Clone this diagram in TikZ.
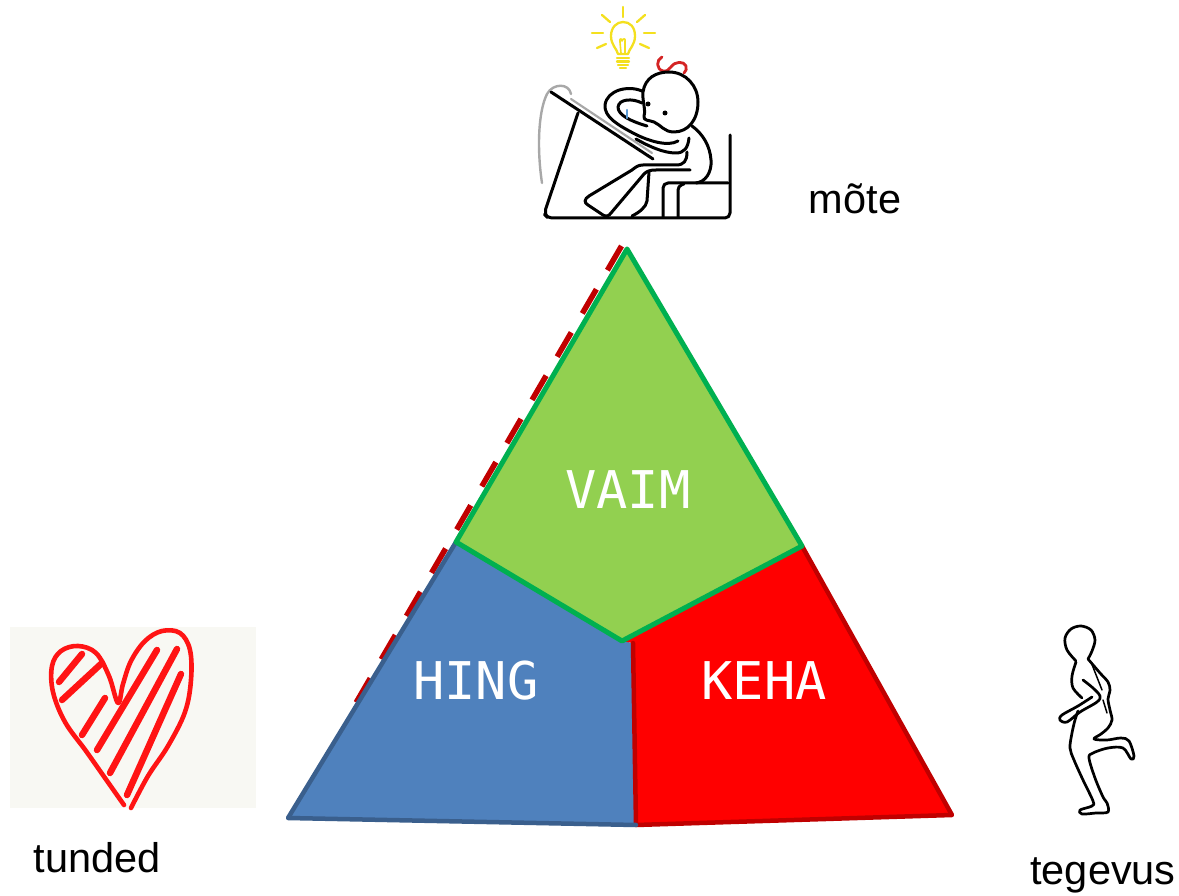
\documentclass[tikz,border=0pt]{standalone}
\usepackage{fontspec}
\setmainfont{Liberation Sans}
\newfontfamily\partfont{DejaVu Sans Mono}
\definecolor{vaimfill}{HTML}{92D050}
\definecolor{vaimline}{HTML}{00B050}
\definecolor{hingfill}{HTML}{4F81BD}
\definecolor{hingline}{HTML}{3A5F8D}
\definecolor{kehafill}{HTML}{FF0000}
\definecolor{kehaline}{HTML}{C00000}
\definecolor{bulb}{HTML}{F4E01E}
\definecolor{bow}{HTML}{D42424}
\definecolor{pen}{HTML}{5B9BD5}
\definecolor{cable}{HTML}{A8A8A8}
\definecolor{heartred}{HTML}{FF1414}
\definecolor{paper}{HTML}{F8F8F3}
\begin{document}
\begin{tikzpicture}[x=1pt,y=-1pt,line cap=round,line join=round]
\tikzset{
  ink/.style={draw=black,line width=3pt},
  thinink/.style={draw=black,line width=2.7pt},
  partlabel/.style={text=white,font=\partfont\fontsize{52}{60}\selectfont,inner sep=0pt},
  wordlabel/.style={text=black,font=\fontsize{41.5}{48}\selectfont,inner sep=0pt,anchor=base},
  ray/.style={draw=bulb,line width=2.3pt},
  stripe/.style={draw=heartred,line width=6.5pt},
}
\fill[white] (0,0) rectangle (1179,896);
\useasboundingbox (0,0) rectangle (1179,896);

% ---------- triangle corners ----------
\coordinate (apex) at (627,249);
\coordinate (gl) at (456,542);
\coordinate (gr) at (802,546);
\coordinate (gb) at (622,641);
\coordinate (split) at (633,643);
\coordinate (bl) at (288,818);
\coordinate (bm) at (636,825);
\coordinate (br) at (952,815);
\coordinate (dashtop) at (621.5,246);
\coordinate (dashend) at (346,720);

% dashed edge along the left side
\draw[kehaline,line width=5.5pt,line cap=butt,dash pattern=on 28pt off 22pt] (dashtop) -- (dashend);

% HING part
\fill[hingfill] (gl) -- (bl) -- (bm) -- (split) -- (gb) -- cycle;
% KEHA part
\fill[kehafill] (split) -- (gb) -- (gr) -- (br) -- (bm) -- cycle;
\draw[kehaline,line width=4.5pt] (gr) -- (br) -- (bm) -- (split);
\draw[hingline,line width=4.5pt] (gl) -- (bl) -- (bm);
% VAIM part
\filldraw[fill=vaimfill,draw=vaimline,line width=5pt] (apex) -- (gr) -- (gb) -- (gl) -- cycle;

\node[partlabel] (vaim) at (628,490) {VAIM};
\node[partlabel] (hing) at (476,681) {HING};
\node[partlabel] (keha) at (764,681) {KEHA};

% ---------- word labels ----------
\node[wordlabel] (mote) at (855,214) {mõte};
\node[wordlabel] (tunded) at (97,872) {tunded};
\node[wordlabel] (tegevus) at (1103,884) {tegevus};

% ---------- thinker at the drawing board ----------
% light bulb
\draw[ray] (623,7) -- (623,17);
\draw[ray] (602,15) -- (610,22);
\draw[ray] (645,15) -- (637,22);
\draw[ray] (592,33) -- (603,33);
\draw[ray] (644,33) -- (655,33);
\draw[ray] (597,48) -- (606,44);
\draw[ray] (649,48) -- (640,44);
\draw[ray] (618,54) .. controls (617,49) and (611,45) .. (611,36)
  .. controls (611,27) and (617,22) .. (623,22)
  .. controls (630,22) and (635,27) .. (635,36)
  .. controls (635,45) and (629,49) .. (628,54) -- cycle;
\draw[ray,line width=1.6pt] (621,53) -- (620,42) .. controls (619,38) and (622,38) .. (622,41)
  .. controls (623,38) and (626,38) .. (625,42) -- (625,53);
\draw[ray] (617,58) -- (629,58);
\draw[ray] (617,61.5) -- (629,61.5);
\draw[ray] (618,65) -- (628,65);
\draw[ray] (620,68) -- (626,68);

% ribbon
\draw[bow,line width=2.8pt] (662,57) .. controls (656,60) and (656,69) .. (663,71)
  .. controls (667,72) and (669,69) .. (671,67)
  .. controls (675,61) and (684,61) .. (686,66)
  .. controls (687,69) and (686,71) .. (684,73);

% cable
\draw[cable,line width=2.4pt] (542,183) .. controls (537,150) and (538,112) .. (547,94)
  .. controls (553,83) and (569,83) .. (571,94);

% board
\draw[cable,line width=2.2pt] (571,99) -- (652,153);
\draw[ink] (551,92) -- (653,159);

% desk and floor
\draw[ink,rounded corners=5pt] (578,113) -- (544,214) -- (548,218) -- (730,218) -- (730,135);

% stool
\draw[ink,rounded corners=5pt] (663,217) -- (663,183) -- (728,183);
\draw[ink,rounded corners=4pt] (678,217) -- (678,186) -- (684,184);

% head
\draw[ink] (644,116) .. controls (646,110) and (642,100) .. (643,92)
  .. controls (645,78) and (656,72) .. (669,72)
  .. controls (686,72) and (698,86) .. (698,102)
  .. controls (698,120) and (688,132) .. (674,132)
  .. controls (664,132) and (661,125) .. (654,122)
  .. controls (649,120) and (643,121) .. (644,116);
\fill (648,104) circle (2.5pt);
\fill (665,113) circle (2.5pt);

% arm curled round the head
\draw[ink] (642,91) .. controls (628,85) and (607,90) .. (605,105)
  .. controls (604,117) and (618,125) .. (633,133)
  .. controls (648,141) and (668,147) .. (678,141);
\draw[ink] (642,103) .. controls (632,98) and (619,99) .. (618,107)
  .. controls (618,115) and (630,121) .. (647,126);
\draw[pen,line width=2.4pt] (627,110) -- (627,118);

% forearm on the board
\draw[ink] (636,139) .. controls (650,147) and (664,153) .. (676,153)
  .. controls (684,153) and (688,148) .. (689,138);

% back
\draw[ink] (692,126) .. controls (703,134) and (710,146) .. (711,160)
  .. controls (712,173) and (705,182) .. (696,183);

% legs
\draw[ink] (687,152) .. controls (687,161) and (684,165) .. (676,165) -- (643,165)
  .. controls (638,165) and (636,167) .. (632,170) -- (589,196)
  .. controls (584,199) and (584,203) .. (588,205) -- (603,215)
  .. controls (606,217) and (609,216) .. (611,213) -- (644,174);
\draw[ink] (644,174) .. controls (647,171) and (650,170) .. (656,170) -- (690,170);
\draw[ink] (649,172) -- (647,201) .. controls (646,207) and (640,212) .. (632,216);

% ---------- heart ----------
\fill[paper] (10,627) rectangle (256,808);
\draw[heartred,line width=4.6pt] plot[smooth,tension=0.6] coordinates {
  (124,805) (105,778) (86,751) (65,722) (53,692) (52,666) (61,651) (78,646)
  (96,653) (109,676) (118,703) (123,684) (131,661) (145,641) (162,631)
  (180,633) (190,650) (191,680) (185,712) (168,746) (148,776) (131,808)};
\draw[stripe] (59,682) -- (82,654);
\draw[stripe] (62,700) -- (102,663);
\draw[stripe] (82,735) -- (105,698);
\draw[stripe] (97,750) -- (157,650);
\draw[stripe] (110,773) -- (177,649);
\draw[stripe] (127,795) -- (181,674);

% ---------- runner ----------
\draw[thinink] plot[smooth,tension=0.55] coordinates {
  (1076,661) (1067,650) (1065,638) (1071,629) (1081,626) (1091,630) (1095,640)
  (1092,651) (1088,659)};
\draw[thinink] plot[smooth,tension=0.55] coordinates {
  (1088,659) (1100,673) (1108,682) (1110,690) (1108,699) (1110,710) (1112,720)
  (1108,728) (1101,734) (1094,739) (1107,740) (1121,738) (1129,741) (1134,756)
  (1131,759) (1123,748) (1108,748) (1093,753) (1089,758) (1095,778) (1103,797)
  (1107,803) (1108,812) (1096,813) (1082,814) (1080,810) (1092,806) (1093,801)
  (1083,780) (1074,760) (1070,748) (1072,733) (1075,720) (1078,711)};
\draw[thinink] plot[smooth,tension=0.55] coordinates {
  (1076,662) (1072,676) (1073,688) (1082,698)};
\draw[thinink] plot[smooth,tension=0.55] coordinates {
  (1083,680) (1093,688) (1100,696) (1097,702) (1080,712) (1067,722) (1060,720)
  (1062,715) (1078,706) (1092,697)};
\draw[thinink,line width=1.5pt] (1091,662) -- (1102,690);
\draw[thinink,line width=1.5pt] (1103,700) -- (1107,713);
\end{tikzpicture}
\end{document}
